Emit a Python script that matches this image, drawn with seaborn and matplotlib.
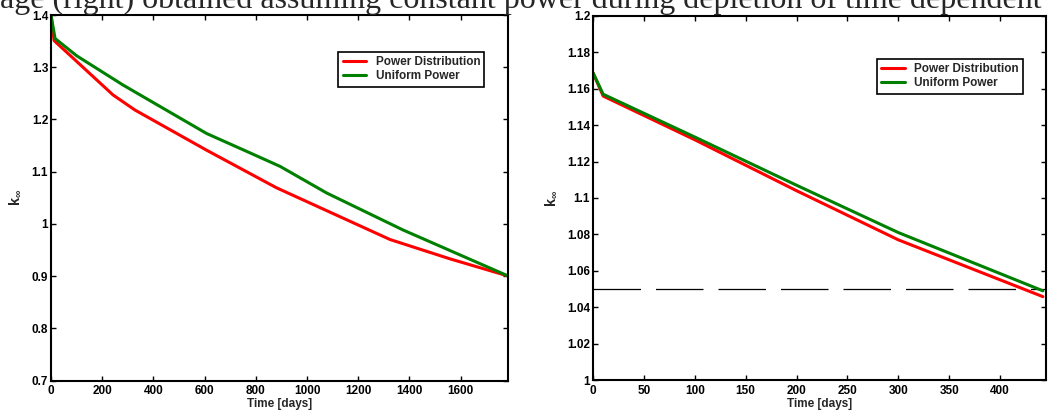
import matplotlib
matplotlib.use('Agg')
import matplotlib.pyplot as plt
import seaborn as sns
import pandas as pd

# left panel (full depletion)
left_t_pd = [0, 12, 242, 328, 608, 881, 1324, 1558, 1786]
left_k_pd = [1.400, 1.351, 1.247, 1.218, 1.141, 1.069, 0.970, 0.933, 0.900]
left_t_up = [0, 16, 100, 281, 608, 777, 895, 1077, 1376, 1786]
left_k_up = [1.400, 1.355, 1.322, 1.266, 1.173, 1.136, 1.110, 1.059, 0.988, 0.900]

# right panel
right_t_pd = [0, 10, 100, 200, 300, 442]
right_k_pd = [1.1688, 1.156, 1.132, 1.104, 1.077, 1.0458]
right_t_up = [0, 10, 100, 200, 300, 442]
right_k_up = [1.1688, 1.157, 1.1335, 1.107, 1.081, 1.049]
k_limit = 1.05

labels = ['Power Distribution', 'Uniform Power']
caption = 'age (right) obtained assuming constant power during depletion of time dependent'

sns.set_style('ticks')
plt.rcParams['font.family'] = ['Liberation Sans', 'DejaVu Sans']
plt.rcParams['font.weight'] = 'bold'
plt.rcParams['mathtext.fontset'] = 'custom'
plt.rcParams['mathtext.bf'] = 'Liberation Sans:bold'
plt.rcParams['mathtext.rm'] = 'Liberation Sans:bold'

FS = 8.5


def make_df(t1, k1, t2, k2):
    a = pd.DataFrame({'t': t1, 'k': k1, 'case': labels[0]})
    b = pd.DataFrame({'t': t2, 'k': k2, 'case': labels[1]})
    return pd.concat([a, b], ignore_index=True)


def style_axes(ax):
    for s in ax.spines.values():
        s.set_visible(True)
        s.set_linewidth(1.5)
        s.set_color('black')
    ax.tick_params(direction='in', top=True, right=True, length=3.5, width=1,
                   labelsize=FS, colors='black')
    ax.tick_params(axis='x', pad=3.5)
    ax.tick_params(axis='y', pad=2)
    for lab in ax.get_xticklabels() + ax.get_yticklabels():
        lab.set_fontweight('bold')
    ax.set_xlabel('Time [days]', fontsize=FS, fontweight='bold', labelpad=0.5)
    ax.set_ylabel(r'$\mathbf{k}_{\infty}$', fontsize=10.5, labelpad=6)


def add_legend(ax, anchor):
    leg = ax.legend(loc='upper right', bbox_to_anchor=anchor, borderaxespad=0,
                    fancybox=False, edgecolor='black', framealpha=1,
                    handlelength=2.0, handletextpad=0.8, labelspacing=0.2,
                    borderpad=0.35, prop={'weight': 'bold', 'size': FS})
    leg.get_frame().set_linewidth(1.2)


fig = plt.figure(figsize=(10.49, 4.11), dpi=100)
ax1 = fig.add_axes([0.0486, 0.0742, 0.436, 0.8893])
ax2 = fig.add_axes([0.5653, 0.0754, 0.4318, 0.8857])

df_l = make_df(left_t_pd, left_k_pd, left_t_up, left_k_up)
sns.lineplot(data=df_l, x='t', y='k', hue='case', palette=['red', 'green'],
             linewidth=2.2, ax=ax1, sort=False)
ax1.set_xlim(0, 1786)
ax1.set_ylim(0.7, 1.4)
ax1.set_xticks(range(0, 1601, 200))
ax1.set_yticks([0.7, 0.8, 0.9, 1, 1.1, 1.2, 1.3, 1.4])
ax1.set_yticklabels(['0.7', '0.8', '0.9', '1', '1.1', '1.2', '1.3', '1.4'])
style_axes(ax1)
add_legend(ax1, (0.9475, 0.899))

df_r = make_df(right_t_pd, right_k_pd, right_t_up, right_k_up)
sns.lineplot(data=df_r, x='t', y='k', hue='case', palette=['red', 'green'],
             linewidth=2.2, ax=ax2, sort=False)
ax2.axhline(k_limit, color='black', linewidth=0.9, dashes=(38, 12), zorder=1)
ax2.set_xlim(0, 445)
ax2.set_ylim(1.0, 1.2)
ax2.set_xticks(range(0, 401, 50))
yt = [1.0, 1.02, 1.04, 1.06, 1.08, 1.1, 1.12, 1.14, 1.16, 1.18, 1.2]
ax2.set_yticks(yt)
ax2.set_yticklabels(['1', '1.02', '1.04', '1.06', '1.08', '1.1', '1.12', '1.14', '1.16', '1.18', '1.2'])
style_axes(ax2)
add_legend(ax2, (0.949, 0.882))

fig.text(0.0, 1 - 8 / 411, caption, family='Liberation Serif', fontsize=23,
         fontweight='normal', va='baseline', ha='left')

fig.savefig('out.png', dpi=100, facecolor='white')
